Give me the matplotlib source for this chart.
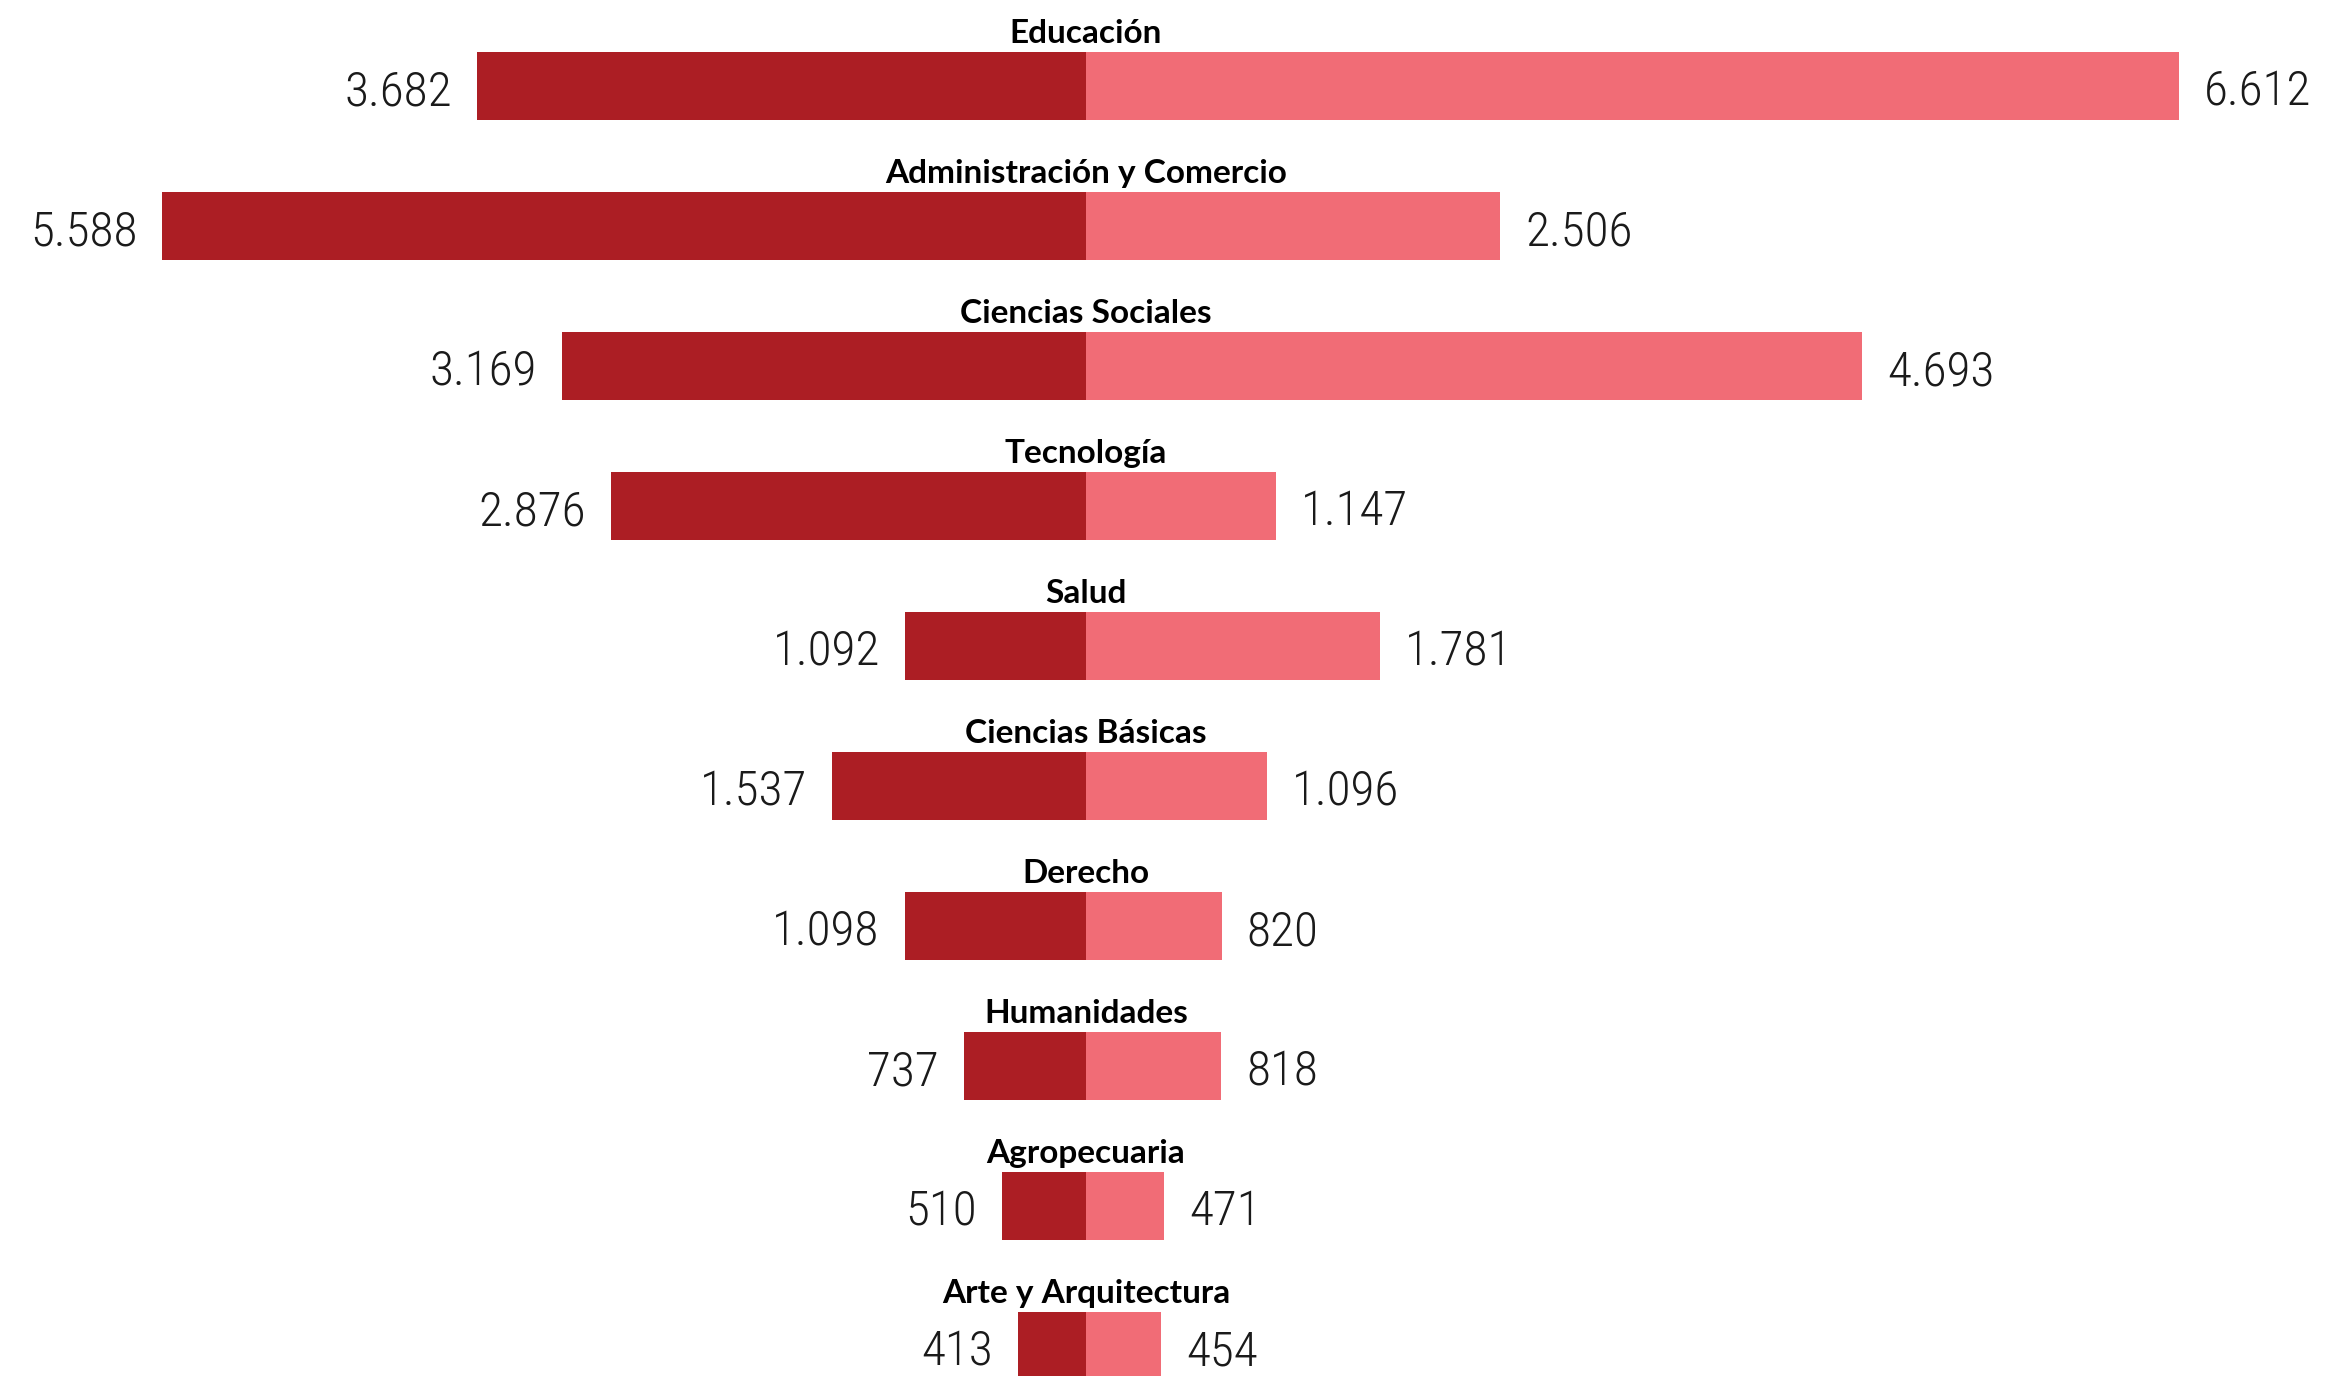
import matplotlib
matplotlib.use("Agg")
import matplotlib.pyplot as plt
from matplotlib import font_manager

# datos
categorias = ["Educación", "Administración y Comercio", "Ciencias Sociales", "Tecnología",
              "Salud", "Ciencias Básicas", "Derecho", "Humanidades", "Agropecuaria",
              "Arte y Arquitectura"]
valores_izq = [3682, 5588, 3169, 2876, 1092, 1537, 1098, 737, 510, 413]
valores_der = [6612, 2506, 4693, 1147, 1781, 1096, 820, 818, 471, 454]

color_izq = "#AC1E24"
color_der = "#F16C76"

nombres = {f.name for f in font_manager.fontManager.ttflist}
fuente_num = "Lato"
for candidata in ["Roboto Condensed", "Open Sans Condensed", "Liberation Sans Narrow"]:
    if candidata in nombres:
        fuente_num = candidata
        break


def formato(v):
    return f"{v:,}".replace(",", ".")


fig = plt.figure(figsize=(23.27, 13.76), dpi=100)
ax = fig.add_axes([0, 0, 1, 1])

escala = 0.1653  # px por unidad
ax.set_xlim(-1086 / escala, (2327 - 1086) / escala)
ax.set_ylim((1376 - 86) / 140, -86 / 140)
alto = 68 / 140
sep = 25 / escala

for i, (cat, vi, vd) in enumerate(zip(categorias, valores_izq, valores_der)):
    ax.barh(i, -vi, height=alto, color=color_izq, linewidth=0)
    ax.barh(i, vd, height=alto, color=color_der, linewidth=0)
    ax.text(0, i - 0.31, cat, ha="center", va="baseline", fontsize=24,
            fontweight="bold", family="Lato", color="black")
    ax.text(-vi - sep, i + 0.138, formato(vi), ha="right", va="baseline",
            fontsize=35.5, fontweight="light", family=fuente_num, color="#1a1a1a")
    ax.text(vd + sep, i + 0.138, formato(vd), ha="left", va="baseline",
            fontsize=35.5, fontweight="light", family=fuente_num, color="#1a1a1a")

ax.axis("off")
fig.savefig("out.png", dpi=100)
